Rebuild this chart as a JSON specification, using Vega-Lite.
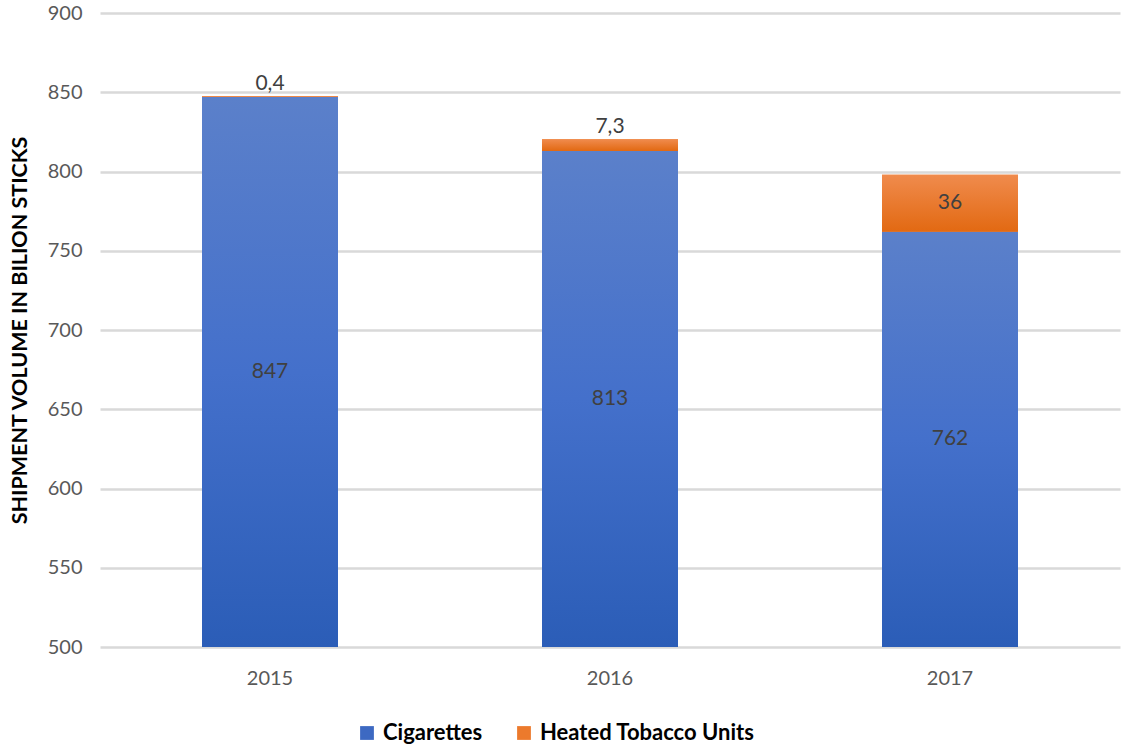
{
  "$schema": "https://vega.github.io/schema/vega-lite/v6.json",
  "width": 1020,
  "height": 634,
  "autosize": {"type": "none"},
  "padding": {"left": 100, "top": 13, "right": 3, "bottom": 100},
  "background": "white",
  "config": {
    "view": {"stroke": null},
    "font": "Lato"
  },
  "data": {
    "values": [
      {"year": "2015", "type": "Cigarettes", "value": 847, "label": "847"},
      {"year": "2015", "type": "Heated Tobacco Units", "value": 0.4, "label": "0,4"},
      {"year": "2016", "type": "Cigarettes", "value": 813, "label": "813"},
      {"year": "2016", "type": "Heated Tobacco Units", "value": 7.3, "label": "7,3"},
      {"year": "2017", "type": "Cigarettes", "value": 762, "label": "762"},
      {"year": "2017", "type": "Heated Tobacco Units", "value": 36, "label": "36"}
    ]
  },
  "transform": [
    {"stack": "value", "groupby": ["year"], "sort": [{"field": "type", "order": "ascending"}], "as": ["v0", "v1"]}
  ],
  "encoding": {
    "x": {
      "field": "year", "type": "nominal",
      "scale": {"paddingInner": 0.6, "paddingOuter": 0.3},
      "axis": {"title": null, "labelAngle": 0, "labelFontSize": 20, "labelColor": "#595959", "labelPadding": 21, "ticks": false, "domain": false}
    }
  },
  "resolve": {"scale": {"y": "independent"}, "axis": {"y": "independent"}},
  "layer": [
    {
      "mark": {"type": "bar", "clip": true},
      "encoding": {
        "y": {
          "field": "v1", "type": "quantitative",
          "scale": {"domain": [500, 900], "nice": false, "zero": false},
          "axis": {
            "title": "SHIPMENT VOLUME IN BILION STICKS",
            "titleFontSize": 21.5, "titleFontWeight": "bold", "titleColor": "#000000", "titlePadding": 16,
            "values": [500, 550, 600, 650, 700, 750, 800, 850, 900],
            "labelFontSize": 20, "labelColor": "#595959", "labelPadding": 18,
            "ticks": false, "domain": false, "gridColor": "#d9d9d9", "gridWidth": 2.5
          }
        },
        "y2": {"field": "v0"},
        "color": {
          "field": "type", "type": "nominal",
          "scale": {"domain": ["Cigarettes", "Heated Tobacco Units"], "range": ["#3d69c2", "#ec7a2c"]},
          "legend": {
            "title": null, "orient": "none", "direction": "horizontal", "legendX": 256, "legendY": 709,
            "symbolType": "square", "symbolSize": 190, "symbolStrokeWidth": 0, "labelLimit": 400,
            "labelFontSize": 22, "labelFontWeight": "bold", "labelColor": "#000000", "columnPadding": 30, "labelOffset": 5
          }
        }
      }
    },
    {
      "transform": [{"filter": "datum.type === 'Cigarettes'"}],
      "mark": {
        "type": "bar", "clip": true,
        "color": {"gradient": "linear", "x1": 0, "y1": 0, "x2": 0, "y2": 1, "stops": [{"offset": 0, "color": "#5b80ca"}, {"offset": 0.5, "color": "#4470cb"}, {"offset": 1, "color": "#2b5db7"}]}
      },
      "encoding": {
        "y": {"field": "v1", "type": "quantitative", "scale": {"domain": [500, 900], "nice": false, "zero": false}, "axis": null},
        "y2": {"datum": 500}
      }
    },
    {
      "transform": [{"filter": "datum.type !== 'Cigarettes'"}],
      "mark": {
        "type": "bar", "clip": true,
        "color": {"gradient": "linear", "x1": 0, "y1": 0, "x2": 0, "y2": 1, "stops": [{"offset": 0, "color": "#f08b4d"}, {"offset": 1, "color": "#e26912"}]}
      },
      "encoding": {
        "y": {"field": "v1", "type": "quantitative", "scale": {"domain": [500, 900], "nice": false, "zero": false}, "axis": null},
        "y2": {"field": "v0"}
      }
    },
    {
      "transform": [{"filter": "datum.type === 'Cigarettes'"}],
      "mark": {"type": "text", "fontSize": 21, "color": "#404040", "baseline": "middle"},
      "encoding": {
        "y": {"field": "v1", "type": "quantitative", "scale": {"domain": [500, 1300], "nice": false, "zero": false}, "axis": null},
        "text": {"field": "label"}
      }
    },
    {
      "transform": [{"filter": "datum.type !== 'Cigarettes' && datum.value >= 10"}],
      "mark": {"type": "text", "fontSize": 21, "color": "#404040", "baseline": "middle", "dy": 28},
      "encoding": {
        "y": {"field": "v1", "type": "quantitative", "scale": {"domain": [500, 900], "nice": false, "zero": false}, "axis": null},
        "text": {"field": "label"}
      }
    },
    {
      "transform": [{"filter": "datum.type !== 'Cigarettes' && datum.value < 10"}],
      "mark": {"type": "text", "fontSize": 21, "color": "#404040", "baseline": "bottom", "dy": -2},
      "encoding": {
        "y": {"field": "v1", "type": "quantitative", "scale": {"domain": [500, 900], "nice": false, "zero": false}, "axis": null},
        "text": {"field": "label"}
      }
    }
  ]
}
